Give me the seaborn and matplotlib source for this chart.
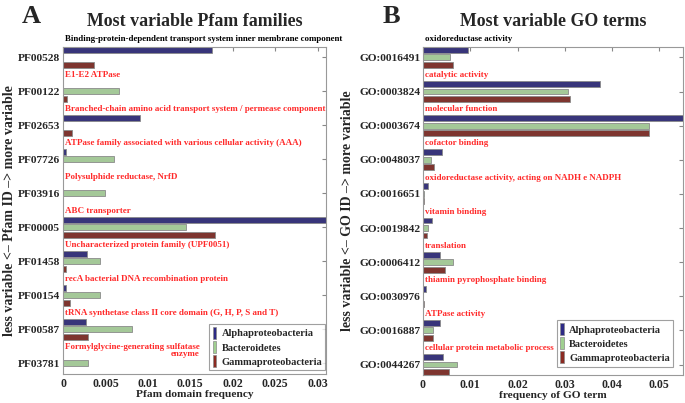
import pandas as pd
import numpy as np
import matplotlib
matplotlib.use("Agg")
import matplotlib.pyplot as plt
import seaborn as sns
from matplotlib.patches import Patch

sns.set_style("white")
plt.rcParams["font.family"] = ["Liberation Serif", "DejaVu Serif"]
plt.rcParams["font.weight"] = "bold"

groups = ["Alphaproteobacteria", "Bacteroidetes", "Gammaproteobacteria"]
colors = ["#2d2a85", "#a0d090", "#8b2a22"]

pfam_ids = ["PF00528", "PF00122", "PF02653", "PF07726", "PF03916",
            "PF00005", "PF01458", "PF00154", "PF00587", "PF03781"]
pfam_alpha = [0.0176, 0.0, 0.0091, 0.0004, 0.0, 0.0335, 0.0028, 0.0004, 0.0027, 0.0]
pfam_bact = [0.0, 0.0066, 0.0, 0.0060, 0.0050, 0.0145, 0.0044, 0.0044, 0.0081, 0.0030]
pfam_gamma = [0.0036, 0.0005, 0.0010, 0.0, 0.0, 0.0179, 0.0003, 0.0008, 0.0029, 0.0]
pfam_names = [
    "Binding-protein-dependent transport system inner membrane component",
    "E1-E2 ATPase",
    "Branched-chain amino acid transport system / permease component",
    "ATPase family associated with various cellular activity (AAA)",
    "Polysulphide reductase, NrfD",
    "ABC transporter",
    "Uncharacterized protein family (UPF0051)",
    "recA bacterial DNA recombination protein",
    "tRNA synthetase class II core domain (G, H, P, S and T)",
    "Formylglycine-generating sulfatase\nenzyme",
]

go_ids = ["GO:0016491", "GO:0003824", "GO:0003674", "GO:0048037", "GO:0016651",
          "GO:0019842", "GO:0006412", "GO:0030976", "GO:0016887", "GO:0044267"]
go_alpha = [0.0095, 0.0375, 0.0570, 0.0040, 0.0011, 0.0019, 0.0036, 0.0007, 0.0035, 0.0043]
go_bact = [0.0057, 0.0307, 0.0477, 0.0016, 0.0002, 0.0010, 0.0063, 0.0, 0.0021, 0.0071]
go_gamma = [0.0064, 0.0310, 0.0479, 0.0023, 0.0003, 0.0008, 0.0047, 0.0002, 0.0021, 0.0055]
go_names = [
    "oxidoreductase activity",
    "catalytic activity",
    "molecular function",
    "cofactor binding",
    "oxidoreductase activity, acting on NADH e NADPH",
    "vitamin binding",
    "translation",
    "thiamin pyrophosphate binding",
    "ATPase activity",
    "cellular protein metabolic process",
]


def long_df(ids, a, b, g):
    rows = []
    for i, pid in enumerate(ids):
        for grp, vals in zip(groups, [a, b, g]):
            rows.append({"id": pid, "group": grp, "value": vals[i]})
    return pd.DataFrame(rows)


def panel(ax, ids, a, b, g, names, xmax, xticks, title, xlabel, ylabel,
          name_x, ylab_x, leg_anchor):
    df = long_df(ids, a, b, g)
    sns.barplot(data=df, y="id", x="value", hue="group", order=ids,
                hue_order=groups, palette=colors, orient="h",
                width=0.66, gap=0.22, edgecolor="#8a8a8a", linewidth=0.6,
                legend=False, ax=ax)
    ax.set_xlim(0, xmax)
    ax.set_ylim(len(ids) - 0.7, -0.3)
    ax.set_xticks(xticks)
    ax.set_xticklabels([("0" if t == 0 else f"{t:g}") for t in xticks],
                       fontsize=8.5, fontweight="bold")
    ax.set_yticklabels(ids, fontsize=8.2, fontweight="bold")
    ax.tick_params(axis="both", direction="in", length=3, color="#888888",
                   top=True, right=True, left=False, bottom=False)
    ax.tick_params(axis="y", pad=2)
    ax.tick_params(axis="x", pad=3)
    for s in ax.spines.values():
        s.set_color("#999999")
        s.set_linewidth(0.8)
    ax.set_xlabel(xlabel, fontsize=8.2, fontweight="bold")
    ax.xaxis.set_label_coords(0.5, -0.05)
    ax.set_ylabel(ylabel, fontsize=10, fontweight="bold")
    ax.yaxis.set_label_coords(ylab_x, 0.5)
    ax.set_title(title, fontsize=12.9, fontweight="bold", pad=15)

    ax.text(name_x, -0.55, names[0], color="black", fontsize=6.4,
            fontweight="bold", va="center", ha="left", clip_on=False)
    for k in range(1, len(names)):
        if "\n" in names[k]:
            ax.text(name_x, k - 1 + 0.62, names[k], color="#ff2a2a", fontsize=6.5,
                    fontweight="bold", va="center", ha="left",
                    multialignment="right", linespacing=0.9)
        else:
            ax.text(name_x, k - 1 + 0.52, names[k], color="#ff2a2a", fontsize=6.5,
                    fontweight="bold", va="center", ha="left")

    handles = [Patch(facecolor=c, edgecolor="#8a8a8a", linewidth=0.5) for c in colors]
    leg = ax.legend(handles, groups, loc="lower right", fontsize=7.5,
                    handlelength=0.35, handleheight=1.4, handletextpad=0.5,
                    labelspacing=0.2, borderpad=0.3, fancybox=False,
                    bbox_to_anchor=leg_anchor, borderaxespad=0.0)
    leg.get_frame().set_edgecolor("#888888")
    leg.get_frame().set_linewidth(0.8)


fig = plt.figure(figsize=(6.85, 4.03), dpi=100)
ax1 = fig.add_axes([0.092, 0.073, 0.384, 0.810])
ax2 = fig.add_axes([0.6175, 0.070, 0.3796, 0.813])

panel(ax1, pfam_ids, pfam_alpha, pfam_bact, pfam_gamma, pfam_names, 0.031,
      [0, 0.005, 0.01, 0.015, 0.02, 0.025, 0.03], "Most variable Pfam families",
      "Pfam domain frequency", "less variable <\u2013 Pfam ID \u2013> more variable",
      0.0002, -0.18, (0.997, 0.01))
panel(ax2, go_ids, go_alpha, go_bact, go_gamma, go_names, 0.055,
      [0, 0.01, 0.02, 0.03, 0.04, 0.05], "Most variable GO terms",
      "frequency of GO term", "less variable <\u2013 GO ID \u2013> more variable",
      0.0004, -0.265, (0.962, 0.025))

fig.text(22 / 685, 1 - 5 / 403, "A", fontsize=19, fontweight="bold", va="top", ha="left")
fig.text(383 / 685, 1 - 5 / 403, "B", fontsize=19, fontweight="bold", va="top", ha="left")

fig.savefig("out.png", dpi=100)
